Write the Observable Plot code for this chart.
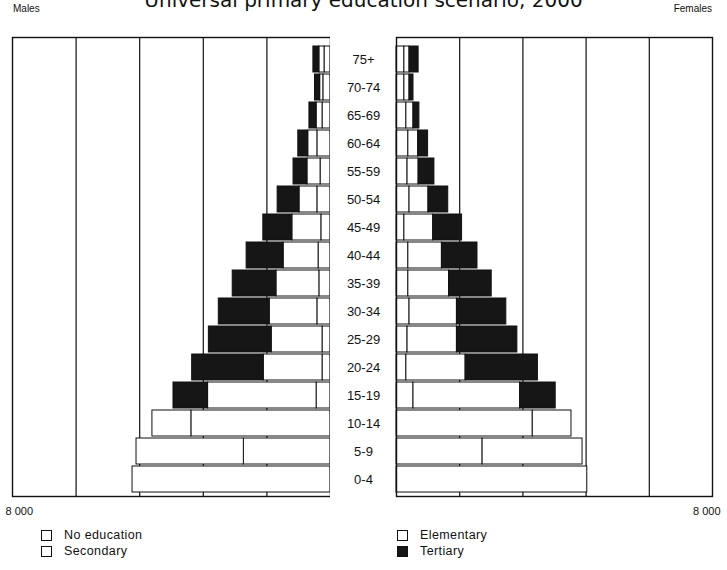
<!DOCTYPE html>
<html>
<head>
<meta charset="utf-8">
<script src="https://cdn.jsdelivr.net/npm/d3@7"></script>
<script src="https://cdn.jsdelivr.net/npm/@observablehq/plot@0.6"></script>
<style>
  html, body { margin: 0; padding: 0; background: #fff; }
  #page { position: relative; width: 727px; height: 570px; overflow: hidden; font-family: "Liberation Sans", Arial, sans-serif; color: #111; }
  #title { position: absolute; left: 0; width: 727px; top: -12px; text-align: center; font-family: "DejaVu Sans", sans-serif; font-size: 20px; line-height: 24px; }
  .side { position: absolute; top: 3px; font-size: 10px; }
  #left, #right { position: absolute; top: 0; }
  #left { left: 0; }
  #right { left: 330px; }
  .leg { position: absolute; font-size: 12.5px; letter-spacing: 0.4px; display: flex; align-items: center; }
  .leg span.box { display: inline-block; width: 9px; height: 9px; border: 1px solid #111; margin-right: 12px; background: #fff; }
</style>
</head>
<body>
<div id="page">
  <div id="title">Universal primary education scenario, 2000</div>
  <div class="side" style="left:13px;">Males</div>
  <div class="side" style="right:15px;">Females</div>
  <div id="left"></div>
  <div id="right"></div>
  <div id="legend"></div>
</div>
<script>
// Age groups (bottom to top)
const ages = ["0-4","5-9","10-14","15-19","20-24","25-29","30-34","35-39","40-44","45-49","50-54","55-59","60-64","65-69","70-74","75+"];
const levels = ["No education","Elementary","Secondary","Tertiary"];
const levelColors = ["#ffffff","#ffffff","#ffffff","#161616"];

// Males (thousands), per age group bottom to top
const maleNoEdu      = [4980, 2180,    0,    0,    0,    0,    0,    0,   0,   0,   0,   0,   0,   0,   0,   0];
const maleElementary = [   0, 2700, 3500,  350,  200,  200,  330,  280, 300, 230, 330, 250, 330, 200, 180, 150];
const maleSecondary  = [   0,    0,  980, 2730, 1480, 1280, 1200, 1080, 880, 730, 450, 330, 230, 150,  80, 130];
const maleTertiary   = [   0,    0,    0,  870, 1800, 1580, 1280, 1100, 930, 730, 550, 350, 250, 180, 130, 150];

// Females (thousands)
const femaleNoEdu      = [4830, 2180,    0,    0,    0,    0,    0,    0,   0,   0,   0,   0,   0,   0,   0,   0];
const femaleElementary = [   0, 2530, 3450,  430,  250,  280,  330,  300, 300, 200, 330, 280, 300, 250, 200, 200];
const femaleSecondary  = [   0,    0,  980, 2700, 1500, 1250, 1200, 1030, 850, 730, 480, 280, 250, 180, 130, 130];
const femaleTertiary   = [   0,    0,    0,  900, 1830, 1530, 1250, 1080, 900, 730, 500, 400, 250, 150, 100, 230];

const gridTicks = [1600, 3200, 4800, 6400];
const edgeTick = [8000];

function tidy(series) {
  const out = [];
  ages.forEach((age, i) => {
    series.forEach((arr, j) => {
      if (arr[i] > 0) out.push({age, level: levels[j], value: arr[i]});
    });
  });
  return out;
}
const maleData = tidy([maleNoEdu, maleElementary, maleSecondary, maleTertiary]);
const femaleData = tidy([femaleNoEdu, femaleElementary, femaleSecondary, femaleTertiary]);

const yDomain = ages.slice().reverse();
const fmt = d => d3.format(",")(d).replace(/,/g, " ");
const common = {
  height: 525,
  marginTop: 37,
  marginBottom: 29,
  style: {fontFamily: "Liberation Sans, Arial, sans-serif", fontSize: "11px", color: "#111", background: "transparent"},
  color: {domain: levels, range: levelColors},
};

const left = Plot.plot({
  ...common,
  width: 330,
  marginLeft: 12,
  marginRight: 0,
  x: {domain: [0, 8000], reverse: true, axis: null},
  y: {type: "band", domain: yDomain, range: [43, 496], paddingInner: 0.06, paddingOuter: 0, axis: null},
  marks: [
    Plot.ruleX(gridTicks, {stroke: "#111", strokeWidth: 1.2}),
    Plot.barX(maleData, Plot.stackX({x: "value", y: "age", fill: "level", order: levels, stroke: "#111", strokeWidth: 1})),
    Plot.frame({stroke: "#111", strokeWidth: 1.4}),
    Plot.axisX(edgeTick, {anchor: "bottom", label: null, tickSize: 0, tickPadding: 11, tickFormat: fmt, textAnchor: "start", dx: -7, fontSize: 11})
  ]
});
document.getElementById("left").appendChild(left);

const right = Plot.plot({
  ...common,
  width: 397,
  marginLeft: 66,
  marginRight: 15,
  x: {domain: [0, 8000], axis: null},
  y: {type: "band", domain: yDomain, range: [43, 496], paddingInner: 0.06, paddingOuter: 0, axis: null},
  marks: [
    Plot.ruleX(gridTicks, {stroke: "#111", strokeWidth: 1.2}),
    Plot.barX(femaleData, Plot.stackX({x: "value", y: "age", fill: "level", order: levels, stroke: "#111", strokeWidth: 1})),
    Plot.frame({stroke: "#111", strokeWidth: 1.4}),
    Plot.text(ages, {y: d => d, frameAnchor: "left", dx: -33, textAnchor: "middle", fontSize: 13, fill: "#111"}),
    Plot.axisX(edgeTick, {anchor: "bottom", label: null, tickSize: 0, tickPadding: 11, tickFormat: fmt, textAnchor: "end", dx: 8, fontSize: 11})
  ]
});
document.getElementById("right").appendChild(right);

// Legend (HTML, two columns)
const legendPos = [
  {x: 41, y: 528}, {x: 397, y: 528},
  {x: 41, y: 544}, {x: 397, y: 544}
];
const legend = document.getElementById("legend");
levels.forEach((lv, i) => {
  const el = document.createElement("div");
  el.className = "leg";
  el.style.left = legendPos[i].x + "px";
  el.style.top = legendPos[i].y + "px";
  const box = document.createElement("span");
  box.className = "box";
  box.style.background = levelColors[i];
  el.appendChild(box);
  el.appendChild(document.createTextNode(lv));
  legend.appendChild(el);
});
</script>
</body>
</html>
